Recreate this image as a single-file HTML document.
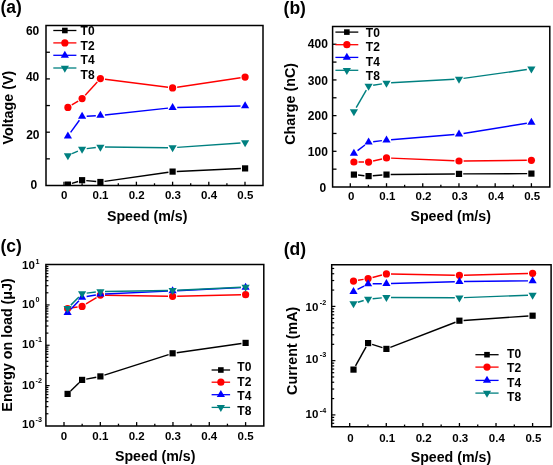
<!DOCTYPE html>
<html><head><meta charset="utf-8"><style>html,body{margin:0;padding:0;background:#fff;width:553px;height:465px;overflow:hidden}svg{display:block;will-change:transform}</style></head><body>
<svg width="553" height="465" viewBox="0 0 553 465" font-family='"Liberation Sans", sans-serif' font-weight="bold">
<rect width="553" height="465" fill="#fff"/>
<text x="0.40" y="13.40" font-size="17.5" text-anchor="start" >(a)</text>
<path d="M46.00,25.60H263.00V185.50H46.00Z" fill="none" stroke="#000" stroke-width="1.5"/>
<line x1="64.00" y1="185.50" x2="64.00" y2="181.70" stroke="#000" stroke-width="1.3"/>
<text x="64.30" y="198.80" font-size="11.5" text-anchor="middle" >0</text>
<line x1="82.10" y1="185.50" x2="82.10" y2="183.30" stroke="#000" stroke-width="1.3"/>
<line x1="100.20" y1="185.50" x2="100.20" y2="181.70" stroke="#000" stroke-width="1.3"/>
<text x="100.50" y="198.80" font-size="11.5" text-anchor="middle" >0.1</text>
<line x1="118.30" y1="185.50" x2="118.30" y2="183.30" stroke="#000" stroke-width="1.3"/>
<line x1="136.40" y1="185.50" x2="136.40" y2="181.70" stroke="#000" stroke-width="1.3"/>
<text x="136.70" y="198.80" font-size="11.5" text-anchor="middle" >0.2</text>
<line x1="154.50" y1="185.50" x2="154.50" y2="183.30" stroke="#000" stroke-width="1.3"/>
<line x1="172.60" y1="185.50" x2="172.60" y2="181.70" stroke="#000" stroke-width="1.3"/>
<text x="172.90" y="198.80" font-size="11.5" text-anchor="middle" >0.3</text>
<line x1="190.70" y1="185.50" x2="190.70" y2="183.30" stroke="#000" stroke-width="1.3"/>
<line x1="208.80" y1="185.50" x2="208.80" y2="181.70" stroke="#000" stroke-width="1.3"/>
<text x="209.10" y="198.80" font-size="11.5" text-anchor="middle" >0.4</text>
<line x1="226.90" y1="185.50" x2="226.90" y2="183.30" stroke="#000" stroke-width="1.3"/>
<line x1="245.00" y1="185.50" x2="245.00" y2="181.70" stroke="#000" stroke-width="1.3"/>
<text x="245.30" y="198.80" font-size="11.5" text-anchor="middle" >0.5</text>
<line x1="46.00" y1="158.85" x2="49.90" y2="158.85" stroke="#000" stroke-width="1.3"/>
<line x1="46.00" y1="132.20" x2="49.90" y2="132.20" stroke="#000" stroke-width="1.3"/>
<line x1="46.00" y1="105.55" x2="49.90" y2="105.55" stroke="#000" stroke-width="1.3"/>
<line x1="46.00" y1="78.90" x2="49.90" y2="78.90" stroke="#000" stroke-width="1.3"/>
<line x1="46.00" y1="52.25" x2="49.90" y2="52.25" stroke="#000" stroke-width="1.3"/>
<text x="39.30" y="34.70" font-size="12" text-anchor="end" >60</text>
<text x="39.30" y="80.90" font-size="12" text-anchor="end" >40</text>
<text x="39.50" y="138.80" font-size="12" text-anchor="end" >20</text>
<text x="37.30" y="188.60" font-size="12" text-anchor="end" >0</text>
<text x="0" y="0" font-size="14.3" text-anchor="middle" transform="translate(13.3,107.6) rotate(-90)">Voltage (V)</text>
<text x="147.20" y="221.20" font-size="14.2" text-anchor="middle" >Speed (m/s)</text>
<clipPath id="ca"><rect x="46" y="25.6" width="217" height="160.1"/></clipPath><g clip-path="url(#ca)">
<line x1="71.91" y1="183.36" x2="78.09" y2="181.44" stroke="#000000" stroke-width="1.45"/>
<line x1="86.28" y1="180.61" x2="96.22" y2="181.59" stroke="#000000" stroke-width="1.45"/>
<line x1="104.56" y1="181.40" x2="168.44" y2="172.20" stroke="#000000" stroke-width="1.45"/>
<line x1="176.80" y1="171.41" x2="240.90" y2="168.59" stroke="#000000" stroke-width="1.45"/>
<rect x="64.80" y="181.50" width="6.20" height="6.20" fill="#000000"/>
<rect x="79.00" y="177.10" width="6.20" height="6.20" fill="#000000"/>
<rect x="97.30" y="178.90" width="6.20" height="6.20" fill="#000000"/>
<rect x="169.50" y="168.50" width="6.20" height="6.20" fill="#000000"/>
<rect x="242.00" y="165.30" width="6.20" height="6.20" fill="#000000"/>
<line x1="71.81" y1="104.98" x2="78.19" y2="101.02" stroke="#ff0000" stroke-width="1.45"/>
<line x1="85.21" y1="95.21" x2="97.29" y2="81.99" stroke="#ff0000" stroke-width="1.45"/>
<line x1="104.96" y1="79.19" x2="168.04" y2="87.31" stroke="#ff0000" stroke-width="1.45"/>
<line x1="177.15" y1="87.22" x2="240.55" y2="77.78" stroke="#ff0000" stroke-width="1.45"/>
<circle cx="67.90" cy="107.40" r="3.60" fill="#ff0000"/>
<circle cx="82.10" cy="98.60" r="3.60" fill="#ff0000"/>
<circle cx="100.40" cy="78.60" r="3.60" fill="#ff0000"/>
<circle cx="172.60" cy="87.90" r="3.60" fill="#ff0000"/>
<circle cx="245.10" cy="77.10" r="3.60" fill="#ff0000"/>
<line x1="70.60" y1="132.37" x2="79.40" y2="120.23" stroke="#0000ff" stroke-width="1.45"/>
<line x1="86.69" y1="116.25" x2="95.81" y2="115.75" stroke="#0000ff" stroke-width="1.45"/>
<line x1="104.97" y1="115.00" x2="168.03" y2="108.10" stroke="#0000ff" stroke-width="1.45"/>
<line x1="177.20" y1="107.49" x2="240.50" y2="105.91" stroke="#0000ff" stroke-width="1.45"/>
<path d="M63.80,138.43L72.00,138.43L67.90,131.43Z" fill="#0000ff"/>
<path d="M78.00,118.83L86.20,118.83L82.10,111.83Z" fill="#0000ff"/>
<path d="M96.30,117.83L104.50,117.83L100.40,110.83Z" fill="#0000ff"/>
<path d="M168.50,109.93L176.70,109.93L172.60,102.93Z" fill="#0000ff"/>
<path d="M241.00,108.13L249.20,108.13L245.10,101.13Z" fill="#0000ff"/>
<line x1="72.09" y1="153.71" x2="77.91" y2="151.09" stroke="#008080" stroke-width="1.45"/>
<line x1="86.67" y1="148.65" x2="95.83" y2="147.55" stroke="#008080" stroke-width="1.45"/>
<line x1="105.00" y1="147.04" x2="168.00" y2="147.66" stroke="#008080" stroke-width="1.45"/>
<line x1="177.19" y1="147.38" x2="240.51" y2="143.02" stroke="#008080" stroke-width="1.45"/>
<path d="M63.80,153.27L72.00,153.27L67.90,160.27Z" fill="#008080"/>
<path d="M78.00,146.87L86.20,146.87L82.10,153.87Z" fill="#008080"/>
<path d="M96.30,144.67L104.50,144.67L100.40,151.67Z" fill="#008080"/>
<path d="M168.50,145.37L176.70,145.37L172.60,152.37Z" fill="#008080"/>
<path d="M241.00,140.37L249.20,140.37L245.10,147.37Z" fill="#008080"/>
</g>
<line x1="53.30" y1="30.50" x2="76.40" y2="30.50" stroke="#000000" stroke-width="1.3"/>
<rect x="62.06" y="27.71" width="5.58" height="5.58" fill="#000000"/>
<text x="80.60" y="35.00" font-size="12" text-anchor="start" >T0</text>
<line x1="53.30" y1="42.90" x2="76.40" y2="42.90" stroke="#ff0000" stroke-width="1.3"/>
<circle cx="64.85" cy="42.90" r="3.60" fill="#ff0000"/>
<text x="80.60" y="49.80" font-size="12" text-anchor="start" >T2</text>
<line x1="53.30" y1="55.30" x2="76.40" y2="55.30" stroke="#0000ff" stroke-width="1.3"/>
<path d="M60.75,57.63L68.95,57.63L64.85,50.63Z" fill="#0000ff"/>
<text x="80.60" y="64.40" font-size="12" text-anchor="start" >T4</text>
<line x1="53.30" y1="68.00" x2="76.40" y2="68.00" stroke="#008080" stroke-width="1.3"/>
<path d="M60.75,65.67L68.95,65.67L64.85,72.67Z" fill="#008080"/>
<text x="80.60" y="79.00" font-size="12" text-anchor="start" >T8</text>
<text x="283.60" y="13.50" font-size="17.5" text-anchor="start" >(b)</text>
<path d="M332.60,26.40H549.80V187.00H332.60Z" fill="none" stroke="#000" stroke-width="1.5"/>
<line x1="350.30" y1="187.00" x2="350.30" y2="183.20" stroke="#000" stroke-width="1.3"/>
<text x="351.10" y="200.00" font-size="11.5" text-anchor="middle" >0</text>
<line x1="368.41" y1="187.00" x2="368.41" y2="184.80" stroke="#000" stroke-width="1.3"/>
<line x1="386.52" y1="187.00" x2="386.52" y2="183.20" stroke="#000" stroke-width="1.3"/>
<text x="387.32" y="200.00" font-size="11.5" text-anchor="middle" >0.1</text>
<line x1="404.63" y1="187.00" x2="404.63" y2="184.80" stroke="#000" stroke-width="1.3"/>
<line x1="422.74" y1="187.00" x2="422.74" y2="183.20" stroke="#000" stroke-width="1.3"/>
<text x="423.54" y="200.00" font-size="11.5" text-anchor="middle" >0.2</text>
<line x1="440.85" y1="187.00" x2="440.85" y2="184.80" stroke="#000" stroke-width="1.3"/>
<line x1="458.96" y1="187.00" x2="458.96" y2="183.20" stroke="#000" stroke-width="1.3"/>
<text x="459.76" y="200.00" font-size="11.5" text-anchor="middle" >0.3</text>
<line x1="477.07" y1="187.00" x2="477.07" y2="184.80" stroke="#000" stroke-width="1.3"/>
<line x1="495.18" y1="187.00" x2="495.18" y2="183.20" stroke="#000" stroke-width="1.3"/>
<text x="495.98" y="200.00" font-size="11.5" text-anchor="middle" >0.4</text>
<line x1="513.29" y1="187.00" x2="513.29" y2="184.80" stroke="#000" stroke-width="1.3"/>
<line x1="531.40" y1="187.00" x2="531.40" y2="183.20" stroke="#000" stroke-width="1.3"/>
<text x="532.20" y="200.00" font-size="11.5" text-anchor="middle" >0.5</text>
<line x1="332.60" y1="169.16" x2="336.50" y2="169.16" stroke="#000" stroke-width="1.3"/>
<line x1="332.60" y1="151.31" x2="336.50" y2="151.31" stroke="#000" stroke-width="1.3"/>
<line x1="332.60" y1="133.47" x2="336.50" y2="133.47" stroke="#000" stroke-width="1.3"/>
<line x1="332.60" y1="115.62" x2="336.50" y2="115.62" stroke="#000" stroke-width="1.3"/>
<line x1="332.60" y1="97.78" x2="336.50" y2="97.78" stroke="#000" stroke-width="1.3"/>
<line x1="332.60" y1="79.93" x2="336.50" y2="79.93" stroke="#000" stroke-width="1.3"/>
<line x1="332.60" y1="62.09" x2="336.50" y2="62.09" stroke="#000" stroke-width="1.3"/>
<line x1="332.60" y1="44.24" x2="336.50" y2="44.24" stroke="#000" stroke-width="1.3"/>
<text x="327.90" y="48.30" font-size="12" text-anchor="end" >400</text>
<text x="327.90" y="84.60" font-size="12" text-anchor="end" >300</text>
<text x="327.90" y="120.10" font-size="12" text-anchor="end" >200</text>
<text x="327.90" y="156.40" font-size="12" text-anchor="end" >100</text>
<text x="326.30" y="191.70" font-size="12" text-anchor="end" >0</text>
<text x="0" y="0" font-size="14.3" text-anchor="middle" transform="translate(295.4,103.9) rotate(-90)">Charge (nC)</text>
<text x="450.70" y="221.40" font-size="14.2" text-anchor="middle" >Speed (m/s)</text>
<line x1="358.08" y1="175.03" x2="364.42" y2="175.67" stroke="#000000" stroke-width="1.45"/>
<line x1="372.79" y1="175.75" x2="382.31" y2="174.95" stroke="#000000" stroke-width="1.45"/>
<line x1="390.70" y1="174.56" x2="454.80" y2="173.94" stroke="#000000" stroke-width="1.45"/>
<line x1="463.20" y1="173.88" x2="527.20" y2="173.62" stroke="#000000" stroke-width="1.45"/>
<rect x="350.80" y="171.50" width="6.20" height="6.20" fill="#000000"/>
<rect x="365.50" y="173.00" width="6.20" height="6.20" fill="#000000"/>
<rect x="383.40" y="171.50" width="6.20" height="6.20" fill="#000000"/>
<rect x="455.90" y="170.80" width="6.20" height="6.20" fill="#000000"/>
<rect x="528.30" y="170.50" width="6.20" height="6.20" fill="#000000"/>
<line x1="358.50" y1="162.03" x2="364.00" y2="162.07" stroke="#ff0000" stroke-width="1.45"/>
<line x1="373.08" y1="161.05" x2="382.02" y2="158.95" stroke="#ff0000" stroke-width="1.45"/>
<line x1="391.10" y1="158.10" x2="454.40" y2="160.80" stroke="#ff0000" stroke-width="1.45"/>
<line x1="463.60" y1="160.96" x2="526.80" y2="160.34" stroke="#ff0000" stroke-width="1.45"/>
<circle cx="353.90" cy="162.00" r="3.60" fill="#ff0000"/>
<circle cx="368.60" cy="162.10" r="3.60" fill="#ff0000"/>
<circle cx="386.50" cy="157.90" r="3.60" fill="#ff0000"/>
<circle cx="459.00" cy="161.00" r="3.60" fill="#ff0000"/>
<circle cx="531.40" cy="160.30" r="3.60" fill="#ff0000"/>
<line x1="357.56" y1="150.61" x2="364.94" y2="144.99" stroke="#0000ff" stroke-width="1.45"/>
<line x1="373.17" y1="141.66" x2="381.93" y2="140.64" stroke="#0000ff" stroke-width="1.45"/>
<line x1="391.08" y1="139.73" x2="454.42" y2="134.57" stroke="#0000ff" stroke-width="1.45"/>
<line x1="463.54" y1="133.47" x2="526.86" y2="123.23" stroke="#0000ff" stroke-width="1.45"/>
<path d="M349.80,155.73L358.00,155.73L353.90,148.73Z" fill="#0000ff"/>
<path d="M364.50,144.53L372.70,144.53L368.60,137.53Z" fill="#0000ff"/>
<path d="M382.40,142.43L390.60,142.43L386.50,135.43Z" fill="#0000ff"/>
<path d="M454.90,136.53L463.10,136.53L459.00,129.53Z" fill="#0000ff"/>
<path d="M527.30,124.83L535.50,124.83L531.40,117.83Z" fill="#0000ff"/>
<line x1="356.19" y1="107.71" x2="366.31" y2="90.09" stroke="#008080" stroke-width="1.45"/>
<line x1="373.14" y1="85.34" x2="381.96" y2="83.86" stroke="#008080" stroke-width="1.45"/>
<line x1="391.09" y1="82.84" x2="454.41" y2="79.26" stroke="#008080" stroke-width="1.45"/>
<line x1="463.56" y1="78.36" x2="526.84" y2="69.54" stroke="#008080" stroke-width="1.45"/>
<path d="M349.80,109.37L358.00,109.37L353.90,116.37Z" fill="#008080"/>
<path d="M364.50,83.77L372.70,83.77L368.60,90.77Z" fill="#008080"/>
<path d="M382.40,80.77L390.60,80.77L386.50,87.77Z" fill="#008080"/>
<path d="M454.90,76.67L463.10,76.67L459.00,83.67Z" fill="#008080"/>
<path d="M527.30,66.57L535.50,66.57L531.40,73.57Z" fill="#008080"/>
<line x1="335.40" y1="32.10" x2="358.30" y2="32.10" stroke="#000000" stroke-width="1.3"/>
<rect x="344.06" y="29.31" width="5.58" height="5.58" fill="#000000"/>
<text x="365.80" y="36.60" font-size="12" text-anchor="start" >T0</text>
<line x1="335.40" y1="44.70" x2="358.30" y2="44.70" stroke="#ff0000" stroke-width="1.3"/>
<circle cx="346.85" cy="44.70" r="3.60" fill="#ff0000"/>
<text x="365.80" y="51.40" font-size="12" text-anchor="start" >T2</text>
<line x1="335.40" y1="57.40" x2="358.30" y2="57.40" stroke="#0000ff" stroke-width="1.3"/>
<path d="M342.75,59.73L350.95,59.73L346.85,52.73Z" fill="#0000ff"/>
<text x="365.80" y="65.80" font-size="12" text-anchor="start" >T4</text>
<line x1="335.40" y1="70.30" x2="358.30" y2="70.30" stroke="#008080" stroke-width="1.3"/>
<path d="M342.75,67.97L350.95,67.97L346.85,74.97Z" fill="#008080"/>
<text x="365.80" y="80.40" font-size="12" text-anchor="start" >T8</text>
<text x="0.40" y="252.20" font-size="17.5" text-anchor="start" >(c)</text>
<path d="M45.90,264.60H263.80V425.90H45.90Z" fill="none" stroke="#000" stroke-width="1.5"/>
<line x1="64.00" y1="425.90" x2="64.00" y2="422.10" stroke="#000" stroke-width="1.3"/>
<text x="64.00" y="440.30" font-size="11.5" text-anchor="middle" >0</text>
<line x1="82.16" y1="425.90" x2="82.16" y2="423.70" stroke="#000" stroke-width="1.3"/>
<line x1="100.32" y1="425.90" x2="100.32" y2="422.10" stroke="#000" stroke-width="1.3"/>
<text x="100.32" y="440.30" font-size="11.5" text-anchor="middle" >0.1</text>
<line x1="118.48" y1="425.90" x2="118.48" y2="423.70" stroke="#000" stroke-width="1.3"/>
<line x1="136.64" y1="425.90" x2="136.64" y2="422.10" stroke="#000" stroke-width="1.3"/>
<text x="136.64" y="440.30" font-size="11.5" text-anchor="middle" >0.2</text>
<line x1="154.80" y1="425.90" x2="154.80" y2="423.70" stroke="#000" stroke-width="1.3"/>
<line x1="172.96" y1="425.90" x2="172.96" y2="422.10" stroke="#000" stroke-width="1.3"/>
<text x="172.96" y="440.30" font-size="11.5" text-anchor="middle" >0.3</text>
<line x1="191.12" y1="425.90" x2="191.12" y2="423.70" stroke="#000" stroke-width="1.3"/>
<line x1="209.28" y1="425.90" x2="209.28" y2="422.10" stroke="#000" stroke-width="1.3"/>
<text x="209.28" y="440.30" font-size="11.5" text-anchor="middle" >0.4</text>
<line x1="227.44" y1="425.90" x2="227.44" y2="423.70" stroke="#000" stroke-width="1.3"/>
<line x1="245.60" y1="425.90" x2="245.60" y2="422.10" stroke="#000" stroke-width="1.3"/>
<text x="245.60" y="440.30" font-size="11.5" text-anchor="middle" >0.5</text>
<line x1="45.90" y1="413.76" x2="48.40" y2="413.76" stroke="#000" stroke-width="1.2"/>
<line x1="45.90" y1="406.66" x2="48.40" y2="406.66" stroke="#000" stroke-width="1.2"/>
<line x1="45.90" y1="401.62" x2="48.40" y2="401.62" stroke="#000" stroke-width="1.2"/>
<line x1="45.90" y1="397.71" x2="48.40" y2="397.71" stroke="#000" stroke-width="1.2"/>
<line x1="45.90" y1="394.52" x2="48.40" y2="394.52" stroke="#000" stroke-width="1.2"/>
<line x1="45.90" y1="391.82" x2="48.40" y2="391.82" stroke="#000" stroke-width="1.2"/>
<line x1="45.90" y1="389.48" x2="48.40" y2="389.48" stroke="#000" stroke-width="1.2"/>
<line x1="45.90" y1="387.42" x2="48.40" y2="387.42" stroke="#000" stroke-width="1.2"/>
<line x1="45.90" y1="385.57" x2="49.60" y2="385.57" stroke="#000" stroke-width="1.2"/>
<line x1="45.90" y1="373.44" x2="48.40" y2="373.44" stroke="#000" stroke-width="1.2"/>
<line x1="45.90" y1="366.34" x2="48.40" y2="366.34" stroke="#000" stroke-width="1.2"/>
<line x1="45.90" y1="361.30" x2="48.40" y2="361.30" stroke="#000" stroke-width="1.2"/>
<line x1="45.90" y1="357.39" x2="48.40" y2="357.39" stroke="#000" stroke-width="1.2"/>
<line x1="45.90" y1="354.20" x2="48.40" y2="354.20" stroke="#000" stroke-width="1.2"/>
<line x1="45.90" y1="351.50" x2="48.40" y2="351.50" stroke="#000" stroke-width="1.2"/>
<line x1="45.90" y1="349.16" x2="48.40" y2="349.16" stroke="#000" stroke-width="1.2"/>
<line x1="45.90" y1="347.10" x2="48.40" y2="347.10" stroke="#000" stroke-width="1.2"/>
<line x1="45.90" y1="345.25" x2="49.60" y2="345.25" stroke="#000" stroke-width="1.2"/>
<line x1="45.90" y1="333.11" x2="48.40" y2="333.11" stroke="#000" stroke-width="1.2"/>
<line x1="45.90" y1="326.01" x2="48.40" y2="326.01" stroke="#000" stroke-width="1.2"/>
<line x1="45.90" y1="320.97" x2="48.40" y2="320.97" stroke="#000" stroke-width="1.2"/>
<line x1="45.90" y1="317.06" x2="48.40" y2="317.06" stroke="#000" stroke-width="1.2"/>
<line x1="45.90" y1="313.87" x2="48.40" y2="313.87" stroke="#000" stroke-width="1.2"/>
<line x1="45.90" y1="311.17" x2="48.40" y2="311.17" stroke="#000" stroke-width="1.2"/>
<line x1="45.90" y1="308.83" x2="48.40" y2="308.83" stroke="#000" stroke-width="1.2"/>
<line x1="45.90" y1="306.77" x2="48.40" y2="306.77" stroke="#000" stroke-width="1.2"/>
<line x1="45.90" y1="304.93" x2="49.60" y2="304.93" stroke="#000" stroke-width="1.2"/>
<line x1="45.90" y1="292.79" x2="48.40" y2="292.79" stroke="#000" stroke-width="1.2"/>
<line x1="45.90" y1="285.69" x2="48.40" y2="285.69" stroke="#000" stroke-width="1.2"/>
<line x1="45.90" y1="280.65" x2="48.40" y2="280.65" stroke="#000" stroke-width="1.2"/>
<line x1="45.90" y1="276.74" x2="48.40" y2="276.74" stroke="#000" stroke-width="1.2"/>
<line x1="45.90" y1="273.55" x2="48.40" y2="273.55" stroke="#000" stroke-width="1.2"/>
<line x1="45.90" y1="270.85" x2="48.40" y2="270.85" stroke="#000" stroke-width="1.2"/>
<line x1="45.90" y1="268.51" x2="48.40" y2="268.51" stroke="#000" stroke-width="1.2"/>
<line x1="45.90" y1="266.45" x2="48.40" y2="266.45" stroke="#000" stroke-width="1.2"/>
<text x="34.8" y="269.40" font-size="11.5" text-anchor="end">10</text>
<text x="35.5" y="263.50" font-size="7.2">1</text>
<text x="34.8" y="307.88" font-size="11.5" text-anchor="end">10</text>
<text x="35.5" y="301.98" font-size="7.2">0</text>
<text x="34.8" y="348.20" font-size="11.5" text-anchor="end">10</text>
<text x="35.5" y="342.30" font-size="7.2">-1</text>
<text x="34.8" y="388.97" font-size="11.5" text-anchor="end">10</text>
<text x="35.5" y="383.07" font-size="7.2">-2</text>
<text x="34.8" y="428.20" font-size="11.5" text-anchor="end">10</text>
<text x="35.5" y="422.30" font-size="7.2">-3</text>
<text x="0" y="0" font-size="14.3" text-anchor="middle" transform="translate(12.1,344.9) rotate(-90)">Energy on load (μJ)</text>
<text x="155.20" y="461.40" font-size="14.2" text-anchor="middle" >Speed (m/s)</text>
<line x1="70.62" y1="390.98" x2="79.08" y2="382.82" stroke="#000000" stroke-width="1.45"/>
<line x1="86.23" y1="379.11" x2="96.27" y2="377.19" stroke="#000000" stroke-width="1.45"/>
<line x1="104.40" y1="375.12" x2="168.60" y2="354.58" stroke="#000000" stroke-width="1.45"/>
<line x1="176.76" y1="352.71" x2="241.44" y2="343.49" stroke="#000000" stroke-width="1.45"/>
<rect x="64.50" y="390.80" width="6.20" height="6.20" fill="#000000"/>
<rect x="79.00" y="376.80" width="6.20" height="6.20" fill="#000000"/>
<rect x="97.30" y="373.30" width="6.20" height="6.20" fill="#000000"/>
<rect x="169.50" y="350.20" width="6.20" height="6.20" fill="#000000"/>
<rect x="242.50" y="339.80" width="6.20" height="6.20" fill="#000000"/>
<line x1="72.15" y1="307.84" x2="77.55" y2="307.06" stroke="#ff0000" stroke-width="1.45"/>
<line x1="86.01" y1="303.98" x2="96.49" y2="297.52" stroke="#ff0000" stroke-width="1.45"/>
<line x1="105.00" y1="295.18" x2="168.00" y2="296.22" stroke="#ff0000" stroke-width="1.45"/>
<line x1="177.20" y1="296.20" x2="241.00" y2="294.80" stroke="#ff0000" stroke-width="1.45"/>
<circle cx="67.60" cy="308.50" r="3.60" fill="#ff0000"/>
<circle cx="82.10" cy="306.40" r="3.60" fill="#ff0000"/>
<circle cx="100.40" cy="295.10" r="3.60" fill="#ff0000"/>
<circle cx="172.60" cy="296.30" r="3.60" fill="#ff0000"/>
<circle cx="245.60" cy="294.70" r="3.60" fill="#ff0000"/>
<line x1="70.75" y1="309.35" x2="78.95" y2="300.65" stroke="#0000ff" stroke-width="1.45"/>
<line x1="86.64" y1="296.53" x2="95.86" y2="294.97" stroke="#0000ff" stroke-width="1.45"/>
<line x1="105.00" y1="293.99" x2="168.00" y2="291.11" stroke="#0000ff" stroke-width="1.45"/>
<line x1="177.19" y1="290.68" x2="241.01" y2="287.62" stroke="#0000ff" stroke-width="1.45"/>
<path d="M63.50,315.03L71.70,315.03L67.60,308.03Z" fill="#0000ff"/>
<path d="M78.00,299.63L86.20,299.63L82.10,292.63Z" fill="#0000ff"/>
<path d="M96.30,296.53L104.50,296.53L100.40,289.53Z" fill="#0000ff"/>
<path d="M168.50,293.23L176.70,293.23L172.60,286.23Z" fill="#0000ff"/>
<path d="M241.50,289.73L249.70,289.73L245.60,282.73Z" fill="#0000ff"/>
<line x1="70.83" y1="305.13" x2="78.87" y2="296.97" stroke="#008080" stroke-width="1.45"/>
<line x1="86.67" y1="293.15" x2="95.83" y2="292.05" stroke="#008080" stroke-width="1.45"/>
<line x1="105.00" y1="291.43" x2="168.00" y2="290.47" stroke="#008080" stroke-width="1.45"/>
<line x1="177.20" y1="290.19" x2="241.00" y2="287.31" stroke="#008080" stroke-width="1.45"/>
<path d="M63.50,306.07L71.70,306.07L67.60,313.07Z" fill="#008080"/>
<path d="M78.00,291.37L86.20,291.37L82.10,298.37Z" fill="#008080"/>
<path d="M96.30,289.17L104.50,289.17L100.40,296.17Z" fill="#008080"/>
<path d="M168.50,288.07L176.70,288.07L172.60,295.07Z" fill="#008080"/>
<path d="M241.50,284.77L249.70,284.77L245.60,291.77Z" fill="#008080"/>
<line x1="211.60" y1="370.00" x2="230.10" y2="370.00" stroke="#000000" stroke-width="1.3"/>
<rect x="218.06" y="367.21" width="5.58" height="5.58" fill="#000000"/>
<text x="237.30" y="371.00" font-size="12" text-anchor="start" >T0</text>
<line x1="211.60" y1="382.20" x2="230.10" y2="382.20" stroke="#ff0000" stroke-width="1.3"/>
<circle cx="220.85" cy="382.20" r="3.60" fill="#ff0000"/>
<text x="237.30" y="385.50" font-size="12" text-anchor="start" >T2</text>
<line x1="211.60" y1="394.70" x2="230.10" y2="394.70" stroke="#0000ff" stroke-width="1.3"/>
<path d="M216.75,397.03L224.95,397.03L220.85,390.03Z" fill="#0000ff"/>
<text x="237.30" y="400.00" font-size="12" text-anchor="start" >T4</text>
<line x1="211.60" y1="407.40" x2="230.10" y2="407.40" stroke="#008080" stroke-width="1.3"/>
<path d="M216.75,405.07L224.95,405.07L220.85,412.07Z" fill="#008080"/>
<text x="237.30" y="414.80" font-size="12" text-anchor="start" >T8</text>
<text x="283.70" y="255.10" font-size="17.5" text-anchor="start" >(d)</text>
<path d="M331.70,264.80H551.10V426.80H331.70Z" fill="none" stroke="#000" stroke-width="1.5"/>
<line x1="349.70" y1="426.80" x2="349.70" y2="423.00" stroke="#000" stroke-width="1.3"/>
<text x="350.55" y="441.50" font-size="11.5" text-anchor="middle" >0</text>
<line x1="367.99" y1="426.80" x2="367.99" y2="424.60" stroke="#000" stroke-width="1.3"/>
<line x1="386.28" y1="426.80" x2="386.28" y2="423.00" stroke="#000" stroke-width="1.3"/>
<text x="387.13" y="441.50" font-size="11.5" text-anchor="middle" >0.1</text>
<line x1="404.57" y1="426.80" x2="404.57" y2="424.60" stroke="#000" stroke-width="1.3"/>
<line x1="422.86" y1="426.80" x2="422.86" y2="423.00" stroke="#000" stroke-width="1.3"/>
<text x="423.71" y="441.50" font-size="11.5" text-anchor="middle" >0.2</text>
<line x1="441.15" y1="426.80" x2="441.15" y2="424.60" stroke="#000" stroke-width="1.3"/>
<line x1="459.44" y1="426.80" x2="459.44" y2="423.00" stroke="#000" stroke-width="1.3"/>
<text x="460.29" y="441.50" font-size="11.5" text-anchor="middle" >0.3</text>
<line x1="477.73" y1="426.80" x2="477.73" y2="424.60" stroke="#000" stroke-width="1.3"/>
<line x1="496.02" y1="426.80" x2="496.02" y2="423.00" stroke="#000" stroke-width="1.3"/>
<text x="496.87" y="441.50" font-size="11.5" text-anchor="middle" >0.4</text>
<line x1="514.31" y1="426.80" x2="514.31" y2="424.60" stroke="#000" stroke-width="1.3"/>
<line x1="532.60" y1="426.80" x2="532.60" y2="423.00" stroke="#000" stroke-width="1.3"/>
<text x="533.45" y="441.50" font-size="11.5" text-anchor="middle" >0.5</text>
<line x1="331.70" y1="423.30" x2="334.20" y2="423.30" stroke="#000" stroke-width="1.2"/>
<line x1="331.70" y1="420.16" x2="334.20" y2="420.16" stroke="#000" stroke-width="1.2"/>
<line x1="331.70" y1="417.38" x2="334.20" y2="417.38" stroke="#000" stroke-width="1.2"/>
<line x1="331.70" y1="414.90" x2="335.40" y2="414.90" stroke="#000" stroke-width="1.2"/>
<line x1="331.70" y1="398.57" x2="334.20" y2="398.57" stroke="#000" stroke-width="1.2"/>
<line x1="331.70" y1="389.02" x2="334.20" y2="389.02" stroke="#000" stroke-width="1.2"/>
<line x1="331.70" y1="382.24" x2="334.20" y2="382.24" stroke="#000" stroke-width="1.2"/>
<line x1="331.70" y1="376.98" x2="334.20" y2="376.98" stroke="#000" stroke-width="1.2"/>
<line x1="331.70" y1="372.69" x2="334.20" y2="372.69" stroke="#000" stroke-width="1.2"/>
<line x1="331.70" y1="369.05" x2="334.20" y2="369.05" stroke="#000" stroke-width="1.2"/>
<line x1="331.70" y1="365.91" x2="334.20" y2="365.91" stroke="#000" stroke-width="1.2"/>
<line x1="331.70" y1="363.13" x2="334.20" y2="363.13" stroke="#000" stroke-width="1.2"/>
<line x1="331.70" y1="360.65" x2="335.40" y2="360.65" stroke="#000" stroke-width="1.2"/>
<line x1="331.70" y1="344.32" x2="334.20" y2="344.32" stroke="#000" stroke-width="1.2"/>
<line x1="331.70" y1="334.77" x2="334.20" y2="334.77" stroke="#000" stroke-width="1.2"/>
<line x1="331.70" y1="327.99" x2="334.20" y2="327.99" stroke="#000" stroke-width="1.2"/>
<line x1="331.70" y1="322.73" x2="334.20" y2="322.73" stroke="#000" stroke-width="1.2"/>
<line x1="331.70" y1="318.44" x2="334.20" y2="318.44" stroke="#000" stroke-width="1.2"/>
<line x1="331.70" y1="314.80" x2="334.20" y2="314.80" stroke="#000" stroke-width="1.2"/>
<line x1="331.70" y1="311.66" x2="334.20" y2="311.66" stroke="#000" stroke-width="1.2"/>
<line x1="331.70" y1="308.88" x2="334.20" y2="308.88" stroke="#000" stroke-width="1.2"/>
<line x1="331.70" y1="306.40" x2="335.40" y2="306.40" stroke="#000" stroke-width="1.2"/>
<line x1="331.70" y1="290.07" x2="334.20" y2="290.07" stroke="#000" stroke-width="1.2"/>
<line x1="331.70" y1="280.52" x2="334.20" y2="280.52" stroke="#000" stroke-width="1.2"/>
<line x1="331.70" y1="273.74" x2="334.20" y2="273.74" stroke="#000" stroke-width="1.2"/>
<line x1="331.70" y1="268.48" x2="334.20" y2="268.48" stroke="#000" stroke-width="1.2"/>
<text x="318.4" y="310.80" font-size="11.5" text-anchor="end">10</text>
<text x="319.8" y="304.90" font-size="7.2">-2</text>
<text x="318.4" y="362.95" font-size="11.5" text-anchor="end">10</text>
<text x="319.8" y="357.05" font-size="7.2">-3</text>
<text x="318.4" y="418.40" font-size="11.5" text-anchor="end">10</text>
<text x="319.8" y="412.50" font-size="7.2">-4</text>
<text x="0" y="0" font-size="14.3" text-anchor="middle" transform="translate(297.1,350.8) rotate(-90)">Current (mA)</text>
<text x="450.90" y="461.80" font-size="14.2" text-anchor="middle" >Speed (m/s)</text>
<line x1="355.53" y1="365.92" x2="366.07" y2="346.78" stroke="#000000" stroke-width="1.45"/>
<line x1="372.10" y1="344.37" x2="382.40" y2="347.63" stroke="#000000" stroke-width="1.45"/>
<line x1="390.32" y1="347.39" x2="455.48" y2="322.21" stroke="#000000" stroke-width="1.45"/>
<line x1="463.59" y1="320.41" x2="528.41" y2="315.99" stroke="#000000" stroke-width="1.45"/>
<rect x="350.40" y="366.50" width="6.20" height="6.20" fill="#000000"/>
<rect x="365.00" y="340.00" width="6.20" height="6.20" fill="#000000"/>
<rect x="383.30" y="345.80" width="6.20" height="6.20" fill="#000000"/>
<rect x="456.30" y="317.60" width="6.20" height="6.20" fill="#000000"/>
<rect x="529.50" y="312.60" width="6.20" height="6.20" fill="#000000"/>
<line x1="358.03" y1="280.32" x2="363.57" y2="279.38" stroke="#ff0000" stroke-width="1.45"/>
<line x1="372.56" y1="277.46" x2="381.94" y2="275.04" stroke="#ff0000" stroke-width="1.45"/>
<line x1="391.00" y1="273.99" x2="454.80" y2="275.21" stroke="#ff0000" stroke-width="1.45"/>
<line x1="464.00" y1="275.17" x2="528.00" y2="273.43" stroke="#ff0000" stroke-width="1.45"/>
<circle cx="353.50" cy="281.10" r="3.60" fill="#ff0000"/>
<circle cx="368.10" cy="278.60" r="3.60" fill="#ff0000"/>
<circle cx="386.40" cy="273.90" r="3.60" fill="#ff0000"/>
<circle cx="459.40" cy="275.30" r="3.60" fill="#ff0000"/>
<circle cx="532.60" cy="273.30" r="3.60" fill="#ff0000"/>
<line x1="357.57" y1="289.45" x2="364.03" y2="286.05" stroke="#0000ff" stroke-width="1.45"/>
<line x1="372.70" y1="283.82" x2="381.80" y2="283.68" stroke="#0000ff" stroke-width="1.45"/>
<line x1="391.00" y1="283.47" x2="454.80" y2="281.73" stroke="#0000ff" stroke-width="1.45"/>
<line x1="464.00" y1="281.55" x2="528.00" y2="280.85" stroke="#0000ff" stroke-width="1.45"/>
<path d="M349.40,293.93L357.60,293.93L353.50,286.93Z" fill="#0000ff"/>
<path d="M364.00,286.23L372.20,286.23L368.10,279.23Z" fill="#0000ff"/>
<path d="M382.30,285.93L390.50,285.93L386.40,278.93Z" fill="#0000ff"/>
<path d="M455.30,283.93L463.50,283.93L459.40,276.93Z" fill="#0000ff"/>
<path d="M528.50,283.13L536.70,283.13L532.60,276.13Z" fill="#0000ff"/>
<line x1="357.90" y1="302.27" x2="363.70" y2="300.53" stroke="#008080" stroke-width="1.45"/>
<line x1="372.68" y1="298.75" x2="381.82" y2="297.85" stroke="#008080" stroke-width="1.45"/>
<line x1="391.00" y1="297.43" x2="454.80" y2="297.77" stroke="#008080" stroke-width="1.45"/>
<line x1="464.00" y1="297.62" x2="528.00" y2="295.18" stroke="#008080" stroke-width="1.45"/>
<path d="M349.40,301.27L357.60,301.27L353.50,308.27Z" fill="#008080"/>
<path d="M364.00,296.87L372.20,296.87L368.10,303.87Z" fill="#008080"/>
<path d="M382.30,295.07L390.50,295.07L386.40,302.07Z" fill="#008080"/>
<path d="M455.30,295.47L463.50,295.47L459.40,302.47Z" fill="#008080"/>
<path d="M528.50,292.67L536.70,292.67L532.60,299.67Z" fill="#008080"/>
<line x1="475.40" y1="354.70" x2="498.60" y2="354.70" stroke="#000000" stroke-width="1.3"/>
<rect x="484.21" y="351.91" width="5.58" height="5.58" fill="#000000"/>
<text x="507.10" y="357.80" font-size="12" text-anchor="start" >T0</text>
<line x1="475.40" y1="367.10" x2="498.60" y2="367.10" stroke="#ff0000" stroke-width="1.3"/>
<circle cx="487.00" cy="367.10" r="3.60" fill="#ff0000"/>
<text x="507.10" y="372.00" font-size="12" text-anchor="start" >T2</text>
<line x1="475.40" y1="380.40" x2="498.60" y2="380.40" stroke="#0000ff" stroke-width="1.3"/>
<path d="M482.90,382.73L491.10,382.73L487.00,375.73Z" fill="#0000ff"/>
<text x="507.10" y="386.70" font-size="12" text-anchor="start" >T4</text>
<line x1="475.40" y1="393.10" x2="498.60" y2="393.10" stroke="#008080" stroke-width="1.3"/>
<path d="M482.90,390.77L491.10,390.77L487.00,397.77Z" fill="#008080"/>
<text x="507.10" y="401.20" font-size="12" text-anchor="start" >T8</text>
</svg>
</body></html>
